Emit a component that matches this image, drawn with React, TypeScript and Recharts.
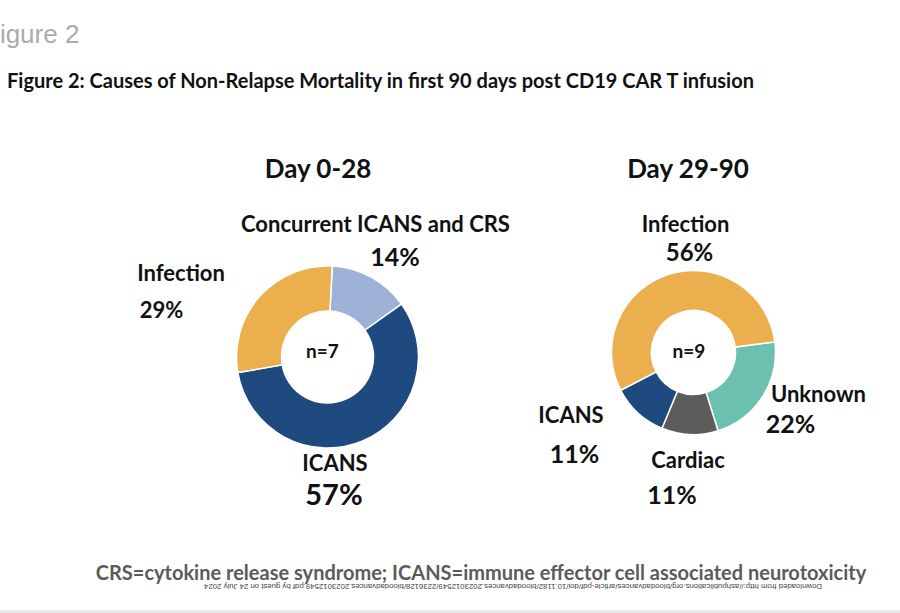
import React from "react";
import { PieChart, Pie, Cell } from "recharts";

const leftCategories = ["Concurrent ICANS and CRS", "ICANS", "Infection"];
const leftCounts = [1, 4, 2];
const leftColors = ["#9DB2D6", "#1F4A80", "#ECAF4E"];

const rightCategories = ["Unknown", "Cardiac", "ICANS", "Infection"];
const rightCounts = [2, 1, 1, 5];
const rightColors = ["#6CC0B0", "#5C5C5C", "#1F4A80", "#ECAF4E"];

const leftData = leftCategories.map((name, i) => ({ name, value: leftCounts[i] }));
const rightData = rightCategories.map((name, i) => ({ name, value: rightCounts[i] }));

const FONT = "Lato, 'Open Sans', sans-serif";

type TProps = { x: number; y: number; size: number; children: React.ReactNode; weight?: number; color?: string; align?: "left" | "center"; family?: string };

function T({ x, y, size, children, weight = 700, color = "#111", align = "center", family = FONT }: TProps) {
  return (
    <div
      style={{
        position: "absolute",
        left: x,
        top: y,
        transform: align === "center" ? "translate(-50%, -50%)" : "translate(0, -50%)",
        fontFamily: family,
        fontWeight: weight,
        fontSize: size,
        color,
        whiteSpace: "nowrap",
        lineHeight: 1,
      }}
    >
      {children}
    </div>
  );
}

export default function App() {
  return (
    <div style={{ position: "absolute", left: 0, top: 0, width: 900, height: 613, background: "#fff", overflow: "hidden" }}>
      <div style={{ position: "absolute", left: 0, top: 0 }}>
        <PieChart width={900} height={613}>
          <Pie
            data={leftData}
            dataKey="value"
            nameKey="name"
            cx={322.5}
            cy={352}
            innerRadius={46}
            outerRadius={91}
            startAngle={87}
            endAngle={-273}
            stroke="#ffffff"
            strokeWidth={1.5}
            isAnimationActive={false}
          >
            {leftData.map((d, i) => (
              <Cell key={d.name} fill={leftColors[i]} />
            ))}
          </Pie>
          <Pie
            data={rightData}
            dataKey="value"
            nameKey="name"
            cx={688.5}
            cy={347.5}
            innerRadius={42}
            outerRadius={82}
            startAngle={7.4}
            endAngle={-352.6}
            stroke="#ffffff"
            strokeWidth={1.5}
            isAnimationActive={false}
          >
            {rightData.map((d, i) => (
              <Cell key={d.name} fill={rightColors[i]} />
            ))}
          </Pie>
        </PieChart>
      </div>

      <T x={-16} y={34} size={26} weight={400} color="#ababab" align="left" family="'Liberation Sans', Arial, sans-serif">Figure 2</T>
      <T x={7} y={80} size={20} align="left">Figure 2: Causes of Non-Relapse Mortality in first 90 days post CD19 CAR T infusion</T>

      <T x={318} y={168} size={26}>Day 0-28</T>
      <T x={688} y={168} size={26}>Day 29-90</T>

      <T x={375.5} y={224} size={22}>Concurrent ICANS and CRS</T>
      <T x={395} y={256} size={25}>14%</T>
      <T x={181} y={273} size={22}>Infection</T>
      <T x={161.5} y={310} size={22}>29%</T>
      <T x={335} y={463} size={22}>ICANS</T>
      <T x={334} y={493} size={29}>57%</T>
      <T x={322.5} y={350} size={19}>n=7</T>

      <T x={685.5} y={224} size={22}>Infection</T>
      <T x={689.5} y={252} size={24}>56%</T>
      <T x={818.5} y={394} size={22}>Unknown</T>
      <T x={790.5} y={423} size={25}>22%</T>
      <T x={571} y={415} size={22}>ICANS</T>
      <T x={574.5} y={453} size={25}>11%</T>
      <T x={688} y={460} size={22}>Cardiac</T>
      <T x={672} y={494} size={25}>11%</T>
      <T x={689} y={350} size={19}>n=9</T>

      <T x={481} y={572} size={20} weight={700} color="#5b5b5b">CRS=cytokine release syndrome; ICANS=immune effector cell associated neurotoxicity</T>

      <div
        style={{
          position: "absolute",
          left: 513,
          top: 586,
          transform: "translate(-50%, -50%) rotate(180deg)",
          fontFamily: "'Liberation Sans', sans-serif",
          fontSize: 7.8,
          color: "#444",
          whiteSpace: "nowrap",
          lineHeight: 1,
        }}
      >
        Downloaded from http://ashpublications.org/bloodadvances/article-pdf/doi/10.1182/bloodadvances.2023012549/2236128/bloodadvances.2023012549.pdf by guest on 24 July 2024
      </div>

      <div style={{ position: "absolute", left: 0, top: 610, width: 900, height: 3, background: "#e8e8e8" }} />
    </div>
  );
}
